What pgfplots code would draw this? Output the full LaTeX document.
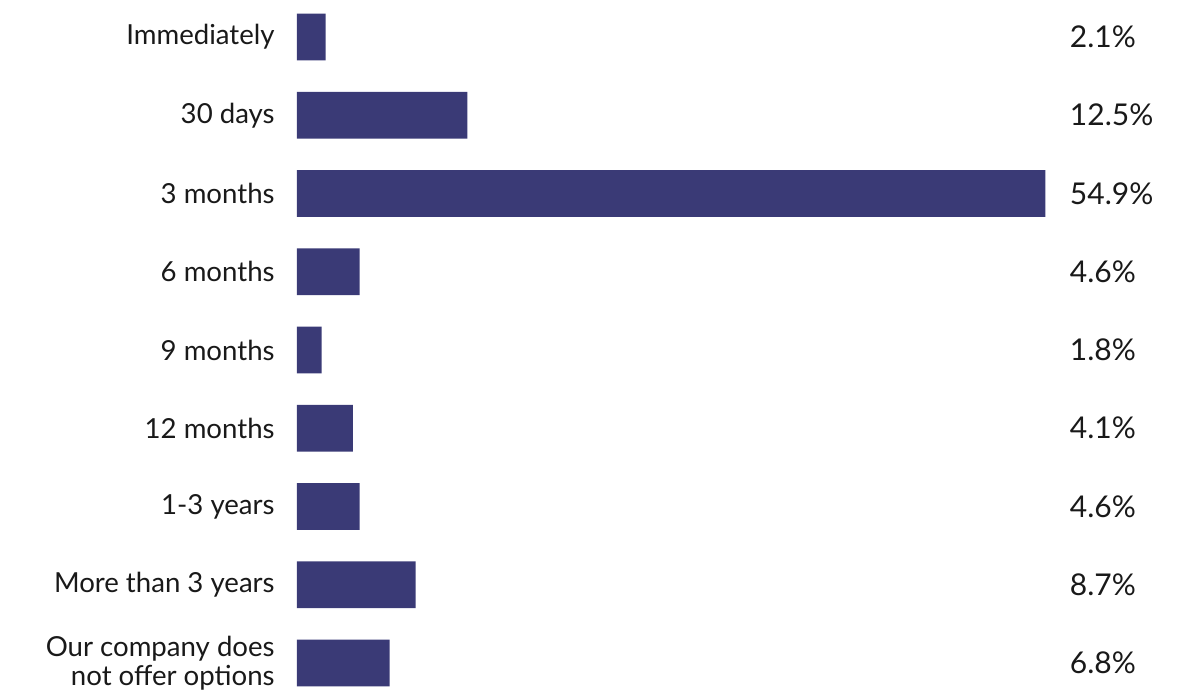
\documentclass[border=0pt]{standalone}
\usepackage{pgfplots}
\pgfplotsset{compat=1.18}
\usepackage{pgfplotstable}
\usepackage{fontspec}
\setmainfont{Lato}
\definecolor{barcol}{RGB}{58,58,118}
\pgfplotstableread[col sep=comma]{
idx,val,lab,pos
0,2.1,2.1\%,56.67
1,12.5,12.5\%,56.67
2,54.9,54.9\%,56.67
3,4.6,4.6\%,56.67
4,1.8,1.8\%,56.67
5,4.1,4.1\%,56.67
6,4.6,4.6\%,56.67
7,8.7,8.7\%,56.67
8,6.8,6.8\%,56.67
}\datatable
\begin{document}
\begin{tikzpicture}
\begin{axis}[
  at={(0,0)}, anchor=south west,
  scale only axis,
  width=409pt, height=350pt,
  xmin=0, xmax=60,
  ymin=-0.473, ymax=8.473,
  y dir=reverse,
  axis line style={draw=none},
  xtick=\empty,
  major tick length=0pt,
  xbar, bar width=0.6, bar shift=0pt,
  ytick={0,...,8},
  yticklabels={Immediately,30 days,3 months,6 months,9 months,12 months,1-3 years,More than 3 years,{Our company does\\not offer options}},
  yticklabel style={align=right, font=\fontsize{13.8}{14.5}\selectfont, inner sep=0pt, xshift=-11pt, text=black!90},
  clip=false,
]
\addplot[fill=barcol, draw=none, bar shift=0pt] table[x=val, y=idx] {\datatable};
\addplot[draw=none, fill=none, bar shift=0pt, forget plot,
  nodes near coords, point meta=explicit symbolic,
  nodes near coords style={anchor=west, inner sep=0pt, font=\fontsize{15}{16}\selectfont, text=black!90}]
  table[x=pos, y=idx, meta=lab] {\datatable};
\end{axis}
\pgfresetboundingbox
\path[use as bounding box] (-148.5pt,0pt) rectangle (451.5pt,350pt);
\end{tikzpicture}
\end{document}
